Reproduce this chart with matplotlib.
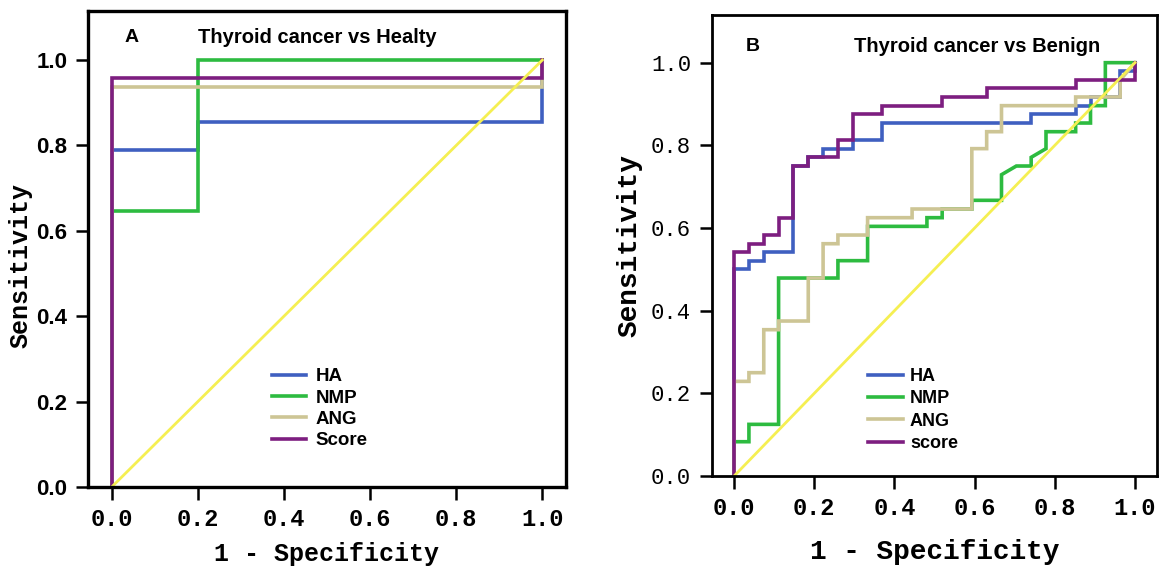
import matplotlib
matplotlib.use("Agg")
import matplotlib.pyplot as plt

# colours of the four ROC curves + reference line
colors = {
    "HA": "#3f5fc0",
    "NMP": "#2dbb40",
    "ANG": "#cdc595",
    "Score": "#7d1e80",
}
diag_color = "#f5ef52"

ticks = [0.0, 0.2, 0.4, 0.6, 0.8, 1.0]

# ---- panel A: thyroid cancer vs healthy (1 - specificity, sensitivity)
ha_a_x = [0, 0, 0.2, 0.2, 1, 1]
ha_a_y = [0, 0.79, 0.79, 0.855, 0.855, 1]
nmp_a_x = [0, 0, 0.2, 0.2, 1]
nmp_a_y = [0, 0.647, 0.647, 1, 1]
ang_a_x = [0, 0, 1, 1]
ang_a_y = [0, 0.938, 0.938, 1]
score_a_x = [0, 0, 1, 1]
score_a_y = [0, 0.958, 0.958, 1]

# ---- panel B: thyroid cancer vs benign
ha_b_x = [0, 0, 0.037, 0.037, 0.074, 0.074, 0.148, 0.148, 0.185, 0.185, 0.222, 0.222,
          0.296, 0.296, 0.370, 0.370, 0.741, 0.741, 0.852, 0.852, 0.889, 0.889,
          0.963, 0.963, 1, 1]
ha_b_y = [0, 0.5, 0.5, 0.521, 0.521, 0.542, 0.542, 0.75, 0.75, 0.771, 0.771, 0.792,
          0.792, 0.812, 0.812, 0.854, 0.854, 0.875, 0.875, 0.896, 0.896, 0.917,
          0.917, 0.979, 0.979, 1]
nmp_b_x = [0, 0, 0.037, 0.037, 0.111, 0.111, 0.259, 0.259, 0.333, 0.333, 0.481, 0.481,
           0.519, 0.519, 0.593, 0.593, 0.667, 0.667, 0.704, 0.741, 0.741, 0.778, 0.778,
           0.852, 0.852, 0.889, 0.889, 0.926, 0.926, 1]
nmp_b_y = [0, 0.083, 0.083, 0.125, 0.125, 0.479, 0.479, 0.521, 0.521, 0.604, 0.604, 0.625,
           0.625, 0.646, 0.646, 0.667, 0.667, 0.729, 0.75, 0.75, 0.771, 0.792, 0.833,
           0.833, 0.854, 0.854, 0.896, 0.896, 1, 1]
ang_b_x = [0, 0, 0.037, 0.037, 0.074, 0.074, 0.111, 0.111, 0.185, 0.185, 0.222, 0.222,
           0.259, 0.259, 0.333, 0.333, 0.444, 0.444, 0.593, 0.593, 0.630, 0.630,
           0.667, 0.667, 0.852, 0.852, 0.963, 0.963, 1]
ang_b_y = [0, 0.229, 0.229, 0.25, 0.25, 0.354, 0.354, 0.375, 0.375, 0.479, 0.479, 0.562,
           0.562, 0.583, 0.583, 0.625, 0.625, 0.646, 0.646, 0.792, 0.792, 0.833,
           0.833, 0.896, 0.896, 0.917, 0.917, 0.958, 1]
score_b_x = [0, 0, 0.037, 0.037, 0.074, 0.074, 0.111, 0.111, 0.148, 0.148, 0.185, 0.185,
             0.259, 0.259, 0.296, 0.296, 0.370, 0.370, 0.519, 0.519, 0.630, 0.630,
             0.852, 0.852, 1, 1]
score_b_y = [0, 0.542, 0.542, 0.562, 0.562, 0.583, 0.583, 0.625, 0.625, 0.75, 0.75, 0.771,
             0.771, 0.812, 0.812, 0.875, 0.875, 0.896, 0.896, 0.917, 0.917, 0.938,
             0.938, 0.958, 0.958, 1]


def draw_panel(ax, curves, labels, letter, title, title_pos, ytick_font, spine_w,
               label_size, xpad):
    lw = 2.6
    for (x, y), lab in zip(curves, labels):
        ax.plot(x, y, color=colors["Score" if lab == "score" else lab],
                lw=lw, label=lab, solid_joinstyle="miter")
    ax.plot([0, 1], [0, 1], color=diag_color, lw=2.0)

    ax.set_xlim(-0.055, 1.055)
    ax.set_ylim(0, 1.115)
    ax.set_xticks(ticks)
    ax.set_yticks(ticks)
    ax.set_xticklabels([f"{t:.1f}" for t in ticks], family="Liberation Mono",
                       weight="bold", size=17)
    ax.set_yticklabels([f"{t:.1f}" for t in ticks], **ytick_font)
    ax.tick_params(direction="out", length=9, width=1.8, pad=6)
    for s in ax.spines.values():
        s.set_linewidth(spine_w)

    ax.set_xlabel("1 - Specificity", family="Liberation Mono", weight="bold",
                  size=label_size, labelpad=xpad)
    ax.set_ylabel("Sensitivity", family="Liberation Mono", weight="bold",
                  size=label_size, labelpad=6)

    ax.text(0.03, title_pos[1], letter, weight="bold", size=14, family="Liberation Sans",
            va="center")
    ax.text(title_pos[0], title_pos[1], title, weight="bold", size=14.5,
            family="Liberation Sans", va="center")


fig = plt.figure(figsize=(11.61, 5.69), dpi=100)

ax_a = fig.add_axes([0.0758, 0.1441, 0.4117, 0.8366])
draw_panel(ax_a,
           [(ha_a_x, ha_a_y), (nmp_a_x, nmp_a_y), (ang_a_x, ang_a_y), (score_a_x, score_a_y)],
           ["HA", "NMP", "ANG", "Score"],
           "A", "Thyroid cancer vs Healty", (0.2, 1.052),
           dict(family="Liberation Sans", weight="bold", size=16), 2.4, 18, 8)
ax_a.yaxis.set_label_coords(-0.115, 0.465)
ax_a.legend(loc="upper left", bbox_to_anchor=(0.35, 0.285), frameon=False,
            handlelength=1.8, handletextpad=0.5, labelspacing=0.22,
            prop=dict(family="Liberation Sans", weight="bold", size=13.5))

ax_b = fig.add_axes([0.6133, 0.1634, 0.3833, 0.810])
draw_panel(ax_b,
           [(ha_b_x, ha_b_y), (nmp_b_x, nmp_b_y), (ang_b_x, ang_b_y), (score_b_x, score_b_y)],
           ["HA", "NMP", "ANG", "score"],
           "B", "Thyroid cancer vs Benign", (0.3, 1.04),
           dict(family="Liberation Mono", size=16), 2.0, 20, 14)
ax_b.legend(loc="upper left", bbox_to_anchor=(0.315, 0.27), frameon=False,
            handlelength=1.9, handletextpad=0.4, labelspacing=0.3,
            prop=dict(family="Liberation Sans", weight="bold", size=13))

fig.savefig("out.png", dpi=100)
